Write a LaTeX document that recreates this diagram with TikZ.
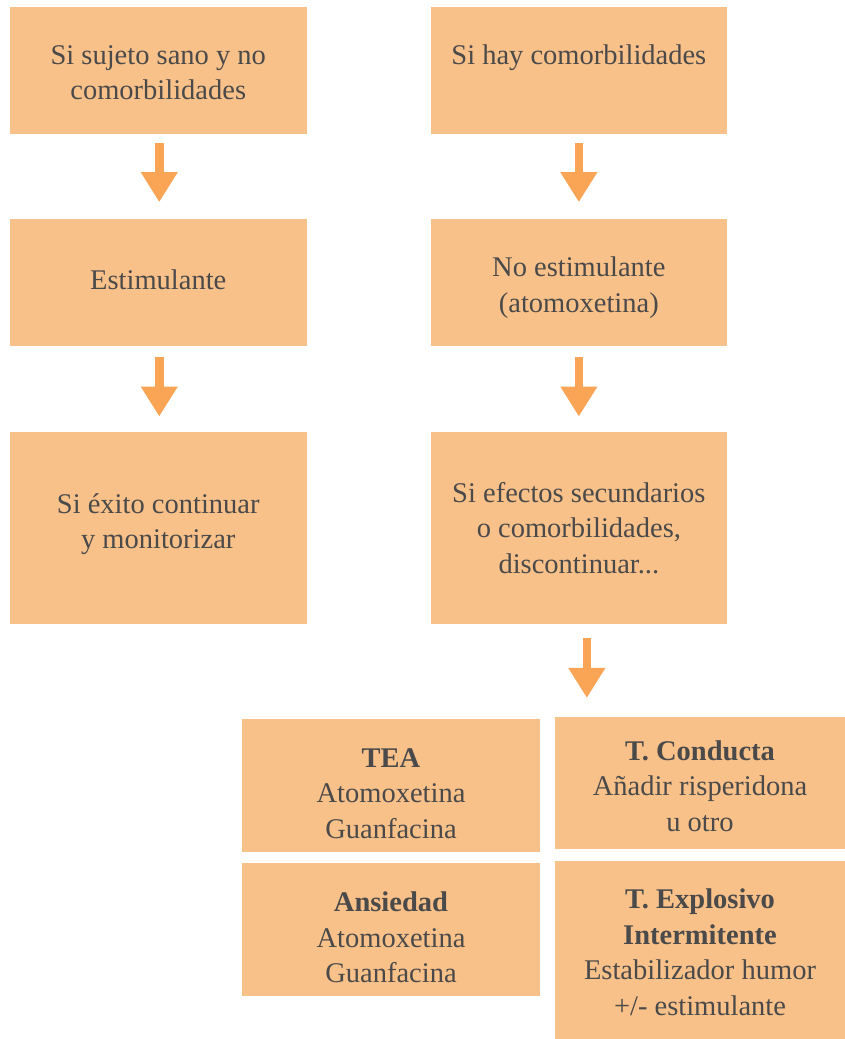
\documentclass[tikz,border=0pt]{standalone}
\usepackage{fontspec}
\setmainfont{Liberation Serif}
\usetikzlibrary{arrows.meta,calc}
\definecolor{boxfill}{HTML}{F9C18A}
\definecolor{arrowc}{HTML}{F9A555}
\definecolor{txt}{HTML}{4A4A4A}
\tikzset{
  fbox/.style={fill=boxfill, draw=none, inner sep=0pt},
  fbtext/.style={inner sep=0pt, align=center, text=txt,
    font=\fontsize{28.5}{35.5}\selectfont},
  arr/.style={draw=arrowc, line width=8.7pt, -{Triangle[width=35pt,length=30pt]}}
}
\begin{document}
\begin{tikzpicture}[x=1pt,y=-1pt]
\useasboundingbox[fill=white] (0,0) rectangle (845,1039);
% boxes
\node[fbox, minimum width=296.5pt, minimum height=127pt] (b1) at (158.25,70.5) {};
\node[fbox, minimum width=295.7pt, minimum height=127pt] (b2) at (578.85,70.5) {};
\node[fbox, minimum width=296.5pt, minimum height=126.4pt] (b3) at (158.25,282.5) {};
\node[fbox, minimum width=295.7pt, minimum height=126.4pt] (b4) at (578.85,282.5) {};
\node[fbox, minimum width=296.5pt, minimum height=192pt] (b5) at (158.25,527.7) {};
\node[fbox, minimum width=295.7pt, minimum height=192pt] (b6) at (578.85,527.7) {};
\node[fbox, minimum width=298pt, minimum height=133pt] (b7) at (391,785.5) {};
\node[fbox, minimum width=290pt, minimum height=132.3pt] (b8) at (700,783.2) {};
\node[fbox, minimum width=298pt, minimum height=132.7pt] (b9) at (391,929.3) {};
\node[fbox, minimum width=290pt, minimum height=178.3pt] (b10) at (700,949.85) {};
% texts
\node[fbtext] (t1) at ($(b1.center)+(0,2)$) {Si sujeto sano y no\\comorbilidades};
\node[fbtext] (t2) at ($(b2.center)+(0,-13)$) {Si hay comorbilidades};
\node[fbtext] (t3) at ($(b3.center)+(0,-3)$) {Estimulante};
\node[fbtext] (t4) at ($(b4.center)+(0,5)$) {No estimulante\\(atomoxetina)};
\node[fbtext] (t5) at ($(b5.center)+(0,-3.5)$) {Si éxito continuar\\y monitorizar};
\node[fbtext] (t6) at (b6.center) {Si efectos secundarios\\o comorbilidades,\\discontinuar...};
\node[fbtext] (t7) at ($(b7.center)+(0,8)$) {\textbf{TEA}\\Atomoxetina\\Guanfacina};
\node[fbtext] (t8) at ($(b8.center)+(0,3)$) {\textbf{T. Conducta}\\Añadir risperidona\\u otro};
\node[fbtext] (t9) at ($(b9.center)+(0,8)$) {\textbf{Ansiedad}\\Atomoxetina\\Guanfacina};
\node[fbtext] (t10) at ($(b10.center)+(0,2.5)$) {\textbf{T. Explosivo}\\\textbf{Intermitente}\\Estabilizador humor\\+/- estimulante};
% arrows
\draw[arr] ([xshift=1pt,yshift=-9pt]b1.south) -- ([xshift=1pt,yshift=17pt]b3.north);
\draw[arr] ([yshift=-9pt]b2.south) -- ([yshift=17pt]b4.north);
\draw[arr] ([xshift=1pt,yshift=-11pt]b3.south) -- ([xshift=1pt,yshift=15pt]b5.north);
\draw[arr] ([yshift=-11pt]b4.south) -- ([yshift=15pt]b6.north);
\coordinate (e6) at ($(b6.south)+(8,74)$);
\draw[arr] ([xshift=8pt,yshift=-14pt]b6.south) -- (e6);
\end{tikzpicture}
\end{document}
